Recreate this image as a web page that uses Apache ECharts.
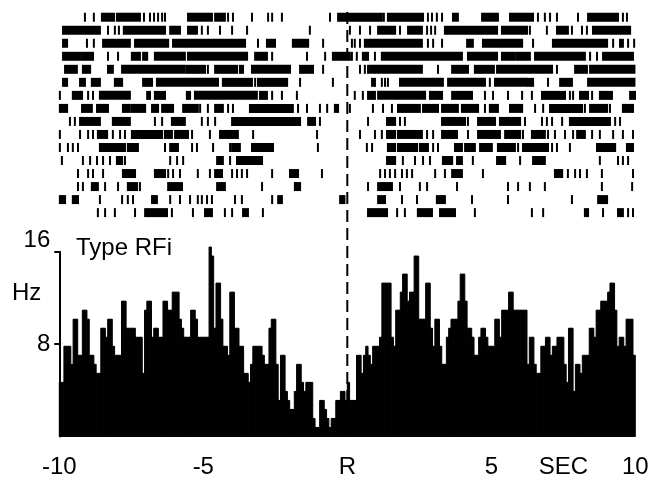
<!DOCTYPE html>
<html>
<head>
<meta charset="utf-8">
<script src="https://cdn.jsdelivr.net/npm/echarts@6/dist/echarts.min.js"></script>
<style>
  html, body { margin: 0; padding: 0; background: #fff; }
  #chart { width: 656px; height: 500px; }
</style>
</head>
<body>
<div id="chart"></div>
<script>
// spikes per 80 ms bin, summed over 16 trials, from -10 s to +10 s around R
const binCounts = [
  6, 6, 10, 10, 10, 8, 13, 13, 9, 9,
  14, 14, 13, 9, 9, 8, 7, 7, 12, 12,
  11, 13, 13, 10, 9, 9, 9, 15, 15, 12,
  12, 12, 12, 11, 11, 11, 7, 14, 15, 15,
  11, 12, 12, 11, 11, 15, 15, 14, 14, 16,
  16, 16, 13, 12, 11, 11, 11, 14, 14, 13,
  11, 11, 11, 11, 11, 21, 20, 12, 17, 17,
  13, 10, 10, 9, 16, 16, 12, 12, 10, 10,
  7, 7, 6, 8, 10, 10, 10, 10, 9, 8,
  8, 12, 13, 13, 8, 4, 9, 9, 5, 4,
  3, 3, 5, 8, 8, 6, 5, 6, 6, 6,
  2, 1, 1, 4, 4, 3, 2, 1, 2, 2,
  4, 4, 5, 5, 4, 6, 4, 4, 4, 9,
  9, 7, 9, 10, 9, 8, 10, 10, 10, 11,
  17, 17, 17, 17, 11, 10, 14, 14, 16, 18,
  18, 15, 16, 16, 20, 20, 13, 13, 13, 17,
  17, 12, 10, 13, 13, 10, 8, 8, 11, 12,
  13, 13, 13, 15, 18, 18, 15, 12, 12, 11,
  9, 9, 11, 12, 12, 11, 10, 10, 10, 13,
  13, 11, 14, 14, 14, 16, 16, 14, 14, 14,
  14, 14, 14, 8, 11, 11, 8, 7, 7, 10,
  10, 11, 11, 9, 10, 10, 11, 11, 11, 8,
  6, 12, 12, 5, 8, 8, 7, 9, 9, 9,
  12, 12, 11, 14, 14, 15, 15, 15, 16, 17,
  17, 14, 10, 11, 11, 10, 13, 13, 13, 9
];
const nTrials = 16;
const binWidth = 0.08;

// raster: one list per trial, spike time in s, [a, b] = a run of spikes
const rasterRows = [
  [-9.11, -8.80, [-8.52, -8.10], [-8.00, -7.20], -7.06, -6.85, -6.71, -6.57, -6.43, -6.33, [-5.53, -4.70], [-4.59, -4.25], -4.14, -3.97, -3.31, -2.75, -2.61, -2.27, -0.60, [-0.32, 1.20], 1.27, [1.41, 2.63], 2.80, 2.94, 3.11, 3.29, [3.67, 3.84], [4.68, 5.23], [5.65, 6.45], 6.62, 6.86, 7.04, 7.28, 8.01, [8.36, 9.40], 9.57, 9.71],
  [[-9.87, -8.59], -8.31, -8.07, -7.93, [-7.76, -6.33], [-6.15, -5.81], [-5.53, -5.22], -5.05, -4.84, -4.42, -4.00, -3.48, -1.30, 0.09, 0.44, 0.79, [1.07, 1.66], 1.83, [2.11, 2.59], 2.77, 2.91, 3.05, [3.39, 5.20], [5.37, 6.24], 6.34, 6.93, [7.28, 7.66], 7.80, 8.15, 8.32, [8.53, 9.82]],
  [[-9.87, -9.73], -9.04, -8.80, [-8.48, -7.55], [-7.37, -6.22], [-6.05, -3.55], -3.10, [-2.79, -2.51], [-1.89, -1.36], -0.84, 0.16, 0.26, 0.44, [0.61, 2.59], 2.80, 2.98, 3.29, [4.16, 4.36], [4.71, 6.07], 6.45, [7.14, 9.02], 9.23, [9.47, 9.57], 9.75, 9.96],
  [[-9.87, -9.28], [-9.21, -8.83], -8.31, -7.96, [-7.48, -7.20], [-7.09, -6.95], [-6.68, -5.64], [-5.53, -3.48], [-3.20, -2.79], -2.61, -1.40, -0.77, [-0.50, 0.09], 0.16, 0.33, [0.54, 0.72], 0.96, [1.20, 3.98], [4.19, 5.20], [5.37, 5.82], [5.89, 6.34], [6.52, 8.25], 8.43, 8.67, [8.88, 9.92]],
  [[-9.80, -9.39], [-9.18, -8.93], [-8.31, -8.14], [-7.82, -5.64], [-5.57, -5.01], -4.94, -4.84, [-4.59, -3.83], [-3.73, -3.62], [-3.31, -1.99], [-1.64, -1.19], -0.84, 0.44, 0.61, 0.72, [0.79, 2.59], 3.15, [3.64, 4.19], [4.43, 5.09], [5.20, 7.11], 7.28, [7.91, 8.32], [8.43, 9.97]],
  [[-9.87, -9.73], [-9.28, -9.11], [-8.87, -8.59], [-8.07, -7.82], [-7.09, -6.78], [-6.61, -4.49], [-4.32, -3.31], -3.20, [-3.10, -2.09], -1.64, -0.50, [0.86, 0.96], 1.20, 1.31, 1.41, [1.83, 3.32], [3.50, 4.78], 4.95, [5.13, 6.24], [6.28, 6.45], 6.97, [7.39, 7.80], [8.36, 9.97]],
  [-9.98, [-9.53, -9.21], -9.00, -8.83, [-8.59, -7.55], [-6.95, -6.85], [-6.68, -6.33], [-5.57, -5.46], [-5.29, -3.14], [-3.03, -2.79], -2.61, -2.27, -1.75, 0.26, 0.54, [0.72, 0.96], [1.07, 2.70], [2.87, 3.29], [3.64, 4.33], 4.78, 5.06, 5.58, 6.07, 6.41, [6.76, 7.56], 7.73, 7.84, [8.08, 8.36], 8.50, [8.77, 9.19], [9.82, 9.99]],
  [[-9.98, -9.73], [-9.21, -8.87], [-8.69, -8.31], [-7.79, -7.55], [-7.48, -7.02], [-6.78, -6.57], [-6.43, -6.05], [-5.70, -5.19], -5.11, -4.84, [-4.59, -4.32], -4.14, -3.97, [-3.38, -1.89], -1.71, -1.40, -0.95, -0.70, [-0.43, -0.32], 0.09, 0.89, 1.24, 1.55, [1.76, 2.52], [2.63, 3.15], [3.29, 3.84], [3.98, 4.54], 4.78, [4.95, 5.23], [5.65, 6.07], 6.52, 6.80, [7.04, 8.15], 8.25, [8.43, 9.02], 9.12, [9.57, 9.92]],
  [-9.63, -9.46, [-9.28, -8.59], [-8.14, -7.55], -6.68, -6.43, [-6.09, -5.64], -5.05, -4.84, -4.59, [-4.00, -1.64], [-1.36, -1.12], -0.95, 0.72, [1.38, 1.66], 1.83, 2.00, [3.29, 4.09], 4.19, [4.54, 5.13], [5.30, 6.00], 6.17, 6.76, 6.93, 7.11, 7.46, [7.73, 9.12], 9.30, 9.47],
  [-9.98, -9.28, -9.00, -8.83, [-8.66, -8.34], -8.14, -7.89, -7.72, [-7.48, -6.43], [-6.33, -6.09], [-5.98, -5.53], -5.39, -4.77, [-4.42, -3.80], -3.27, -1.05, 0.44, 0.96, 1.20, [1.38, 1.66], [1.76, 2.59], 2.77, 2.98, [3.29, 3.81], 4.19, [4.54, 4.89], [4.95, 5.30], [5.48, 6.00], 6.10, [6.41, 6.86], 6.97, 7.21, 7.56, 7.84, [7.98, 8.25], 8.50, 8.77, 9.23, 9.57, 9.92],
  [-9.98, -9.70, -9.53, -9.35, [-8.59, -7.72], [-7.62, -7.27], -6.33, [-6.15, -5.88], -5.39, -5.22, -4.66, -4.07, [-4.00, -3.73], [-3.31, -2.58], -1.02, 0.68, 0.86, [1.41, 1.66], [1.76, 2.42], [2.52, 2.80], 2.98, 3.15, [3.74, 3.98], [4.09, 4.43], [4.61, 5.02], [5.23, 5.82], 5.93, [6.10, 6.97], 7.11, 7.28, 7.73, [8.67, 9.30], [9.71, 9.92]],
  [-9.91, -9.18, -8.93, -8.69, -8.48, -8.24, [-8.00, -7.82], -7.72, -6.15, -5.91, -5.70, [-4.52, -4.32], -4.07, [-3.83, -2.96], [1.38, 1.66], 1.93, 2.35, 2.63, 2.87, [3.32, 3.64], [3.81, 3.98], 4.36, [5.20, 5.48], 6.00, [6.45, 6.86], 8.77, 9.40, 9.57, 9.75],
  [-9.35, -9.00, -8.83, -8.48, [-7.79, -7.37], [-6.68, -6.33], -6.22, -6.05, -5.81, -5.19, -4.77, [-4.59, -4.35], -4.00, -3.83, -3.66, -3.48, -2.61, [-1.99, -1.71], -0.88, 1.14, 1.31, 1.48, 1.66, 1.90, 2.07, 2.25, 3.05, 3.39, [3.64, 3.98], 4.71, [7.21, 7.46], 7.66, 7.91, 8.08, 8.32, 8.84, 9.92],
  [-9.35, -9.18, [-8.87, -8.66], -8.41, -7.96, [-7.62, -7.30], -7.20, [-6.22, -5.74], [-4.52, -4.25], -2.96, [-1.82, -1.64], 0.72, [1.07, 1.55], 1.83, 2.52, 2.77, 3.81, 5.58, 5.93, 6.34, 6.86, 8.84, 9.89],
  [[-9.98, -9.80], [-9.53, -9.35], -8.59, -7.82, -7.62, -7.44, [-6.78, -6.61], -6.15, -5.81, -5.46, -5.19, -5.05, -4.87, -4.70, -3.90, -3.66, -2.61, [-2.40, -2.27], [-0.25, -0.10], [1.07, 1.31], 1.90, 2.42, [3.11, 3.39], 4.33, 5.58, 7.80, [8.71, 9.02]],
  [-8.66, -8.41, -8.07, -7.37, [-7.02, -6.26], -6.09, -5.36, [-4.94, -4.70], -4.25, -4.00, [-3.62, -3.45], -2.93, [0.72, 1.38], 1.73, 2.00, [2.45, 2.94], [3.22, 3.74], 4.43, 6.41, 6.80, [8.25, 8.36], 8.88, [9.40, 9.57], 9.75, 9.92]
];

const tickValues = [-10, -5, 0, 5, 7.5, 10];
const tickLabels = ['-10', '-5', 'R', '5', 'SEC', '10'];

const font = '"Liberation Sans", Arial, Helvetica, sans-serif';
const rasterTop = 12;

let bins = binCounts.map((c, i) => [-10 + i * binWidth, -10 + (i + 1) * binWidth, c / (nTrials * binWidth)]);

let spikes = [];
rasterRows.forEach((row, r) => {
  row.forEach(s => {
    if (Array.isArray(s)) spikes.push([s[0], s[1], r + 1]);
    else spikes.push([s, s, r + 1]);
  });
});

let chart = echarts.init(document.getElementById('chart'));
chart.setOption({
  animation: false,
  backgroundColor: '#fff',
  title: {
    text: 'Type RFi',
    left: 76,
    top: 236,
    padding: 0,
    textStyle: { fontFamily: font, fontSize: 24, fontWeight: 'normal', color: '#000' }
  },
  graphic: [
    {
      type: 'text',
      left: 12,
      top: 281,
      style: { text: 'Hz', fontFamily: font, fontSize: 24, fill: '#000' }
    }
  ],
  grid: [
    { left: 59.3, right: 20.7, top: rasterTop, bottom: 248.3 },
    { left: 59.3, right: 20.7, top: 251.7, bottom: 63.5 }
  ],
  xAxis: [
    { gridIndex: 0, type: 'value', min: -10, max: 10, show: false },
    {
      gridIndex: 1,
      type: 'value',
      min: -10,
      max: 10,
      axisLine: { show: false },
      axisTick: { show: false },
      splitLine: { show: false },
      axisLabel: {
        customValues: tickValues,
        margin: 19,
        fontFamily: font,
        fontSize: 24,
        color: '#000',
        formatter: v => tickLabels[tickValues.indexOf(v)]
      }
    }
  ],
  yAxis: [
    { gridIndex: 0, type: 'value', min: 0.6, max: 19, inverse: true, show: false },
    {
      gridIndex: 1,
      type: 'value',
      min: 0,
      max: 16,
      axisLine: { show: true, onZero: false, lineStyle: { color: '#000', width: 2 } },
      axisTick: { show: true, length: 5, customValues: [8, 16], lineStyle: { color: '#000', width: 2 } },
      splitLine: { show: false },
      axisLabel: {
        customValues: [8, 16],
        margin: 9,
        fontFamily: font,
        fontSize: 24,
        color: '#000',
        formatter: v => (v === 16 ? '{hi|16}' : String(v)),
        rich: {
          hi: { fontFamily: font, fontSize: 24, color: '#000', padding: [0, 0, 22, 0] }
        }
      }
    }
  ],
  series: [
    {
      type: 'custom',
      name: 'raster',
      xAxisIndex: 0,
      yAxisIndex: 0,
      data: spikes,
      encode: { x: [0, 1], y: 2 },
      renderItem: function (params, api) {
        let a = api.coord([api.value(0), api.value(2)]);
        let b = api.coord([api.value(1), api.value(2)]);
        return {
          type: 'rect',
          shape: { x: a[0] - 1, y: a[1] - 4.5, width: b[0] - a[0] + 2, height: 9 },
          style: { fill: '#000' }
        };
      }
    },
    {
      type: 'custom',
      name: 'psth',
      xAxisIndex: 1,
      yAxisIndex: 1,
      data: bins,
      encode: { x: [0, 1], y: 2 },
      renderItem: function (params, api) {
        let lo = api.coord([api.value(0), api.value(2)]);
        let hi = api.coord([api.value(1), 0]);
        return {
          type: 'rect',
          shape: { x: lo[0], y: lo[1], width: hi[0] - lo[0], height: hi[1] - lo[1] },
          style: { fill: '#000', stroke: '#000', lineWidth: 1 }
        };
      }
    },
    {
      type: 'custom',
      name: 'R',
      xAxisIndex: 1,
      yAxisIndex: 1,
      data: [[0, 0]],
      z: 5,
      renderItem: function (params, api) {
        let p = api.coord([api.value(0), api.value(1)]);
        return {
          type: 'line',
          shape: { x1: p[0], y1: rasterTop, x2: p[0], y2: p[1] },
          style: { stroke: '#000', lineWidth: 2, lineDash: [12, 6] }
        };
      }
    }
  ]
});
</script>
</body>
</html>
